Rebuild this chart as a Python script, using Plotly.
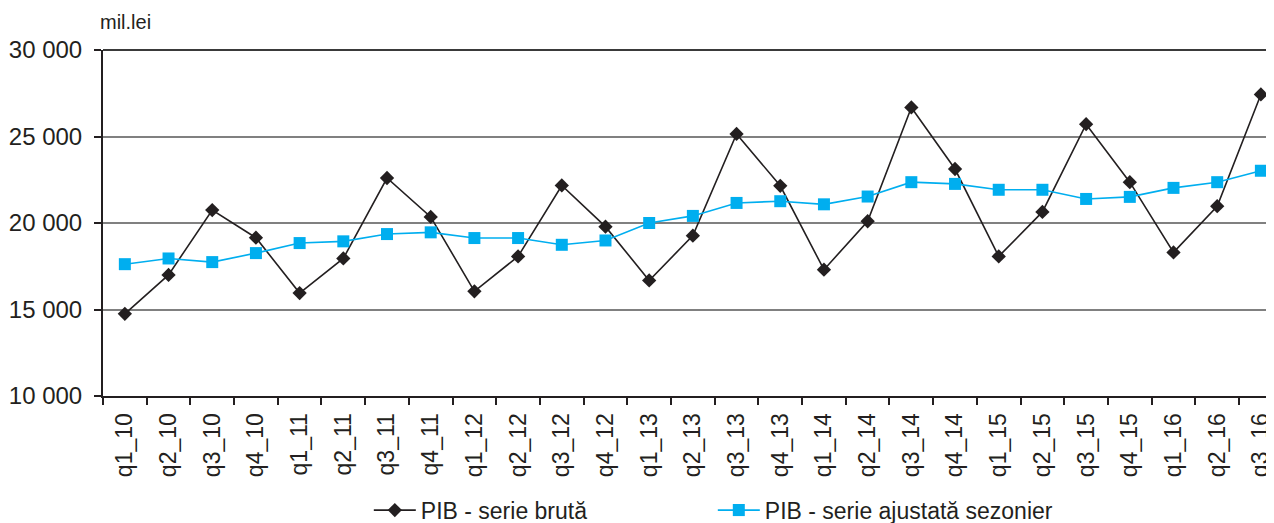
import plotly.graph_objects as go

categories = ["q1_10", "q2_10", "q3_10", "q4_10",
              "q1_11", "q2_11", "q3_11", "q4_11",
              "q1_12", "q2_12", "q3_12", "q4_12",
              "q1_13", "q2_13", "q3_13", "q4_13",
              "q1_14", "q2_14", "q3_14", "q4_14",
              "q1_15", "q2_15", "q3_15", "q4_15",
              "q1_16", "q2_16", "q3_16"]

serie_bruta = [14750, 17000, 20750, 19150,
               15950, 17950, 22600, 20350,
               16050, 18070, 22170, 19790,
               16680, 19270, 25150, 22150,
               17300, 20100, 26680, 23120,
               18070, 20640, 25710, 22360,
               18300, 20970, 27430]

serie_ajustata = [17620, 17950, 17740, 18260,
                  18840, 18940, 19360, 19460,
                  19130, 19130, 18740, 18990,
                  20000, 20410, 21160, 21260,
                  21080, 21530, 22360, 22260,
                  21920, 21920, 21390, 21510,
                  22030, 22360, 23020]

y_tickvals = [10000, 15000, 20000, 25000, 30000]
y_ticktext = ["10 000", "15 000", "20 000", "25 000", "30 000"]

FONT = "Liberation Sans, Arial, sans-serif"
TXT = "#231f20"

fig = go.Figure()
fig.add_trace(go.Scatter(
    x=categories, y=serie_bruta, name="PIB - serie brută",
    mode="lines+markers",
    line=dict(color="#231f20", width=1.6),
    marker=dict(symbol="diamond", size=11, color="#231f20"),
))
fig.add_trace(go.Scatter(
    x=categories, y=serie_ajustata, name="PIB - serie ajustată sezonier",
    mode="lines+markers",
    line=dict(color="#00aeef", width=1.6),
    marker=dict(symbol="square", size=12, color="#00aeef"),
))

fig.update_layout(
    width=1266, height=515,
    margin=dict(l=95, r=0, t=42, b=127, autoexpand=False),
    paper_bgcolor="white", plot_bgcolor="white",
    font=dict(family=FONT, color=TXT, size=23),
    showlegend=True,
    legend=dict(
        orientation="h", xref="container", yref="container",
        x=0.285, xanchor="left", y=0.025, yanchor="middle",
        font=dict(size=23, color=TXT), entrywidth=287, itemwidth=42,
        bgcolor="rgba(0,0,0,0)",
    ),
    xaxis=dict(
        type="category", categoryorder="array", categoryarray=categories,
        range=[-0.5, 26.3], automargin=False,
        tickson="boundaries", ticks="outside", ticklen=7, tickwidth=1.5,
        tickcolor="#231f20", tickangle=-90,
        tickfont=dict(size=23, color=TXT),
        showline=True, linecolor="#231f20", linewidth=2,
        showgrid=False, zeroline=False,
        ticklabelstandoff=6,
    ),
    yaxis=dict(
        range=[10000, 30000], automargin=False,
        tickvals=y_tickvals, ticktext=y_ticktext,
        ticks="outside", ticklen=7, tickwidth=1.5, tickcolor="#231f20",
        tickfont=dict(size=24, color=TXT),
        showline=True, linecolor="#231f20", linewidth=2,
        showgrid=True, gridcolor="#808080", gridwidth=1.5,
        zeroline=False, ticklabelstandoff=7,
    ),
    shapes=[dict(type="line", xref="paper", yref="paper",
                 x0=0, x1=1, y0=1, y1=1,
                 line=dict(color="#3a3a3a", width=2))],
    annotations=[dict(text="mil.lei", xref="paper", yref="paper",
                      x=0, y=1, xanchor="left", yanchor="middle",
                      xshift=-5, yshift=28, showarrow=False,
                      font=dict(size=20, color=TXT))],
)

fig.write_html("out.html")
